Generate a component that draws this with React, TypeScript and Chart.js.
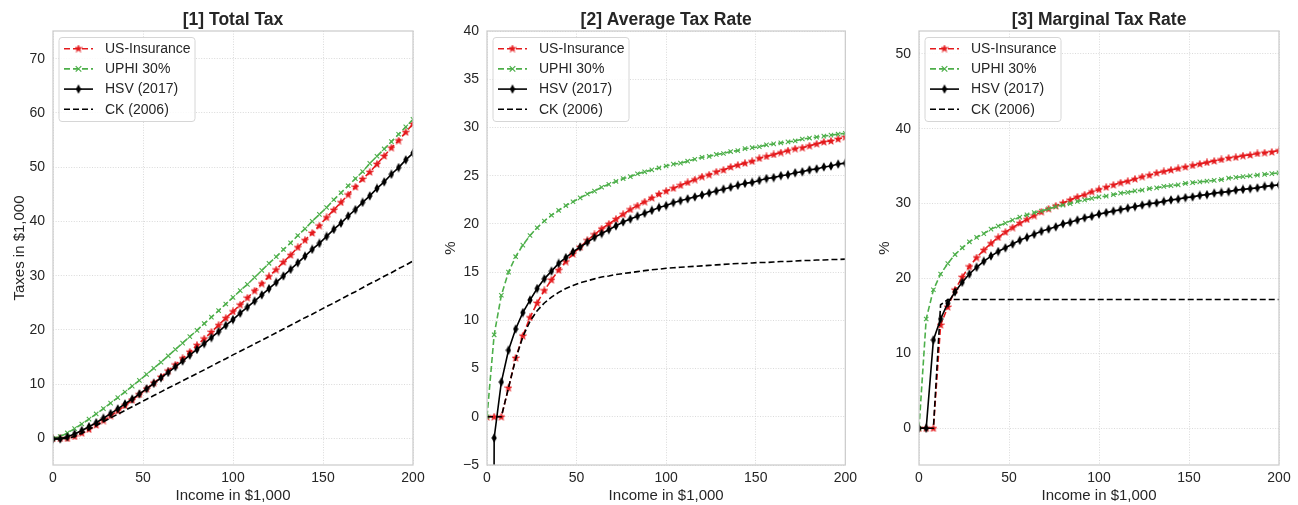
import React, { useEffect, useRef } from "react";
import { Chart, registerables } from "chart.js";

Chart.register(...registerables);

// ---------------- DATA ----------------
const income = [0, 4, 8, 12, 16, 20, 24, 28, 32, 36, 40, 44, 48, 52, 56, 60, 64, 68, 72, 76, 80, 84, 88, 92, 96, 100, 104, 108, 112, 116, 120, 124, 128, 132, 136, 140, 144, 148, 152, 156, 160, 164, 168, 172, 176, 180, 184, 188, 192, 196, 200];

const seriesNames = ["US-Insurance", "UPHI 30%", "HSV (2017)", "CK (2006)"];

// [1] Total tax (in $1,000)
const totalUS = [0, 0, 0, 0.36, 0.98, 1.68, 2.47, 3.3, 4.19, 5.11, 6.08, 7.08, 8.11, 9.15, 10.25, 11.34, 12.48, 13.6, 14.76, 15.96, 17.2, 18.4, 19.62, 20.88, 22.18, 23.4, 24.65, 25.92, 27.22, 28.54, 29.88, 31.12, 32.51, 33.79, 35.22, 36.54, 37.87, 39.22, 40.74, 42.12, 43.52, 44.94, 46.37, 47.82, 49.1, 50.58, 52.07, 53.58, 54.91, 56.45, 58.0];
const totalUPHI = [0, 0.34, 1.01, 1.8, 2.66, 3.56, 4.51, 5.49, 6.5, 7.52, 8.56, 9.64, 10.7, 11.8, 12.94, 14.04, 15.23, 16.39, 17.57, 18.77, 19.92, 21.17, 22.35, 23.55, 24.77, 26.0, 27.25, 28.4, 29.68, 30.97, 32.28, 33.48, 34.82, 36.04, 37.4, 38.64, 40.03, 41.29, 42.56, 43.99, 45.28, 46.58, 47.88, 49.19, 50.69, 52.02, 53.36, 54.71, 56.06, 57.43, 58.8];
const totalHSV = [-0.15, -0.09, 0.29, 0.83, 1.46, 2.16, 2.9, 3.72, 4.58, 5.44, 6.36, 7.26, 8.21, 9.15, 10.14, 11.16, 12.16, 13.19, 14.26, 15.35, 16.4, 17.47, 18.57, 19.69, 20.83, 21.9, 23.09, 24.19, 25.31, 26.45, 27.6, 28.77, 29.95, 31.15, 32.37, 33.6, 34.85, 35.96, 37.24, 38.53, 39.68, 41.0, 42.17, 43.52, 44.7, 46.08, 47.29, 48.69, 49.92, 51.35, 52.6];
const totalCK = [0, 0, 0, 0.36, 0.96, 1.66, 2.38, 3.08, 3.78, 4.46, 5.16, 5.85, 6.53, 7.23, 7.9, 8.58, 9.28, 9.93, 10.62, 11.29, 11.96, 12.64, 13.33, 14.03, 14.69, 15.4, 16.07, 16.74, 17.42, 18.1, 18.78, 19.47, 20.16, 20.86, 21.56, 22.26, 22.9, 23.61, 24.32, 24.96, 25.68, 26.4, 27.05, 27.78, 28.51, 29.16, 29.9, 30.55, 31.3, 31.95, 32.7];

// [2] Average tax rate (%)
const avgUS = [0, 0, 0, 3.0, 6.1, 8.4, 10.3, 11.8, 13.1, 14.2, 15.2, 16.1, 16.9, 17.6, 18.3, 18.9, 19.5, 20.0, 20.5, 21.0, 21.5, 21.9, 22.3, 22.7, 23.1, 23.4, 23.7, 24.0, 24.3, 24.6, 24.9, 25.1, 25.4, 25.6, 25.9, 26.1, 26.3, 26.5, 26.8, 27.0, 27.2, 27.4, 27.6, 27.8, 27.9, 28.1, 28.3, 28.5, 28.6, 28.8, 29.0];
const avgUPHI = [0, 8.5, 12.6, 15.0, 16.6, 17.8, 18.8, 19.6, 20.3, 20.9, 21.4, 21.9, 22.3, 22.7, 23.1, 23.4, 23.8, 24.1, 24.4, 24.7, 24.9, 25.2, 25.4, 25.6, 25.8, 26.0, 26.2, 26.3, 26.5, 26.7, 26.9, 27.0, 27.2, 27.3, 27.5, 27.6, 27.8, 27.9, 28.0, 28.2, 28.3, 28.4, 28.5, 28.6, 28.8, 28.9, 29.0, 29.1, 29.2, 29.3, 29.4];
const avgHSV = [-300, -2.2, 3.6, 6.9, 9.1, 10.8, 12.1, 13.3, 14.3, 15.1, 15.9, 16.5, 17.1, 17.6, 18.1, 18.6, 19.0, 19.4, 19.8, 20.2, 20.5, 20.8, 21.1, 21.4, 21.7, 21.9, 22.2, 22.4, 22.6, 22.8, 23.0, 23.2, 23.4, 23.6, 23.8, 24.0, 24.2, 24.3, 24.5, 24.7, 24.8, 25.0, 25.1, 25.3, 25.4, 25.6, 25.7, 25.9, 26.0, 26.2, 26.3];
const avgCK = [0, 0, 0, 3.0, 6.0, 8.3, 9.9, 11.0, 11.8, 12.4, 12.9, 13.3, 13.6, 13.9, 14.1, 14.3, 14.5, 14.6, 14.75, 14.85, 14.95, 15.05, 15.15, 15.25, 15.3, 15.4, 15.45, 15.5, 15.55, 15.6, 15.65, 15.7, 15.75, 15.8, 15.85, 15.9, 15.9, 15.95, 16.0, 16.0, 16.05, 16.1, 16.1, 16.15, 16.2, 16.2, 16.25, 16.25, 16.3, 16.3, 16.35];

// [3] Marginal tax rate (%)
const margUS = [0, 0, 0, 13.8, 16.2, 18.5, 20.2, 21.6, 22.8, 23.8, 24.7, 25.5, 26.2, 26.8, 27.4, 27.9, 28.4, 28.9, 29.3, 29.7, 30.1, 30.5, 30.9, 31.2, 31.6, 31.9, 32.2, 32.5, 32.8, 33.0, 33.3, 33.6, 33.8, 34.1, 34.3, 34.5, 34.7, 34.9, 35.1, 35.3, 35.5, 35.7, 35.9, 36.1, 36.2, 36.4, 36.5, 36.7, 36.8, 36.9, 37.1];
const margUPHI = [0, 14.6, 18.5, 20.6, 22.0, 23.2, 24.1, 24.9, 25.5, 26.0, 26.6, 27.0, 27.4, 27.8, 28.2, 28.5, 28.8, 29.0, 29.3, 29.6, 29.8, 30.0, 30.3, 30.5, 30.7, 30.9, 31.0, 31.2, 31.4, 31.5, 31.7, 31.8, 32.0, 32.1, 32.3, 32.4, 32.5, 32.7, 32.8, 32.9, 33.0, 33.1, 33.2, 33.4, 33.5, 33.6, 33.7, 33.8, 33.9, 34.0, 34.1];
const margHSV = [0, 0, 11.8, 14.6, 16.7, 18.2, 19.5, 20.6, 21.5, 22.3, 23.0, 23.6, 24.1, 24.6, 25.1, 25.5, 25.9, 26.3, 26.6, 26.9, 27.3, 27.5, 27.8, 28.1, 28.3, 28.6, 28.8, 29.0, 29.2, 29.4, 29.6, 29.8, 30.0, 30.1, 30.3, 30.5, 30.6, 30.8, 30.9, 31.1, 31.2, 31.4, 31.5, 31.6, 31.8, 31.9, 32.0, 32.1, 32.3, 32.4, 32.5];
const margCK = [0, 0, 0, 16.5, 17.2, 17.2, 17.2, 17.2, 17.2, 17.2, 17.2, 17.2, 17.2, 17.2, 17.2, 17.2, 17.2, 17.2, 17.2, 17.2, 17.2, 17.2, 17.2, 17.2, 17.2, 17.2, 17.2, 17.2, 17.2, 17.2, 17.2, 17.2, 17.2, 17.2, 17.2, 17.2, 17.2, 17.2, 17.2, 17.2, 17.2, 17.2, 17.2, 17.2, 17.2, 17.2, 17.2, 17.2, 17.2, 17.2, 17.2];

// Tick labels
const xTicks = [0, 50, 100, 150, 200];
const yTicks1 = [0, 10, 20, 30, 40, 50, 60, 70];
const yTicks2 = [-5, 0, 5, 10, 15, 20, 25, 30, 35, 40];
const yTicks3 = [0, 10, 20, 30, 40, 50];

const titles = ["[1] Total Tax", "[2] Average Tax Rate", "[3] Marginal Tax Rate"];
const yLabels = ["Taxes in $1,000", "%", "%"];
const xLabel = "Income in $1,000";

// ---------------- STYLE ----------------
const FONT = '"Liberation Sans", Arial, sans-serif';
const TEXT = "#262626";
const RED = "#e41a1c";
const GREEN = "#4daf4a";
const BLACK = "#000000";
const DASH = [6, 3];

type PanelCfg = {
  left: number;
  width: number;
  yAxisWidth: number;
  rightPad: number;
  yMin: number;
  yMax: number;
  yTicks: number[];
  title: string;
  yLabel: string;
  yLabelOffset: number;
  values: number[][];
};

const panels: PanelCfg[] = [
  { left: 0, width: 430, yAxisWidth: 53, rightPad: 17, yMin: -4.9, yMax: 75.1, yTicks: yTicks1, title: titles[0], yLabel: yLabels[0], yLabelOffset: 29.5, values: [totalUS, totalUPHI, totalHSV, totalCK] },
  { left: 430, width: 432, yAxisWidth: 57, rightPad: 16, yMin: -5, yMax: 40, yTicks: yTicks2, title: titles[1], yLabel: yLabels[1], yLabelOffset: 32, values: [avgUS, avgUPHI, avgHSV, avgCK] },
  { left: 862, width: 436, yAxisWidth: 57, rightPad: 19, yMin: -4.9, yMax: 53.05, yTicks: yTicks3, title: titles[2], yLabel: yLabels[2], yLabelOffset: 30, values: [margUS, margUPHI, margHSV, margCK] },
];

function makeStar(color: string): HTMLCanvasElement {
  const c = document.createElement("canvas");
  c.width = 8;
  c.height = 8;
  const ctx = c.getContext("2d")!;
  ctx.fillStyle = color;
  ctx.strokeStyle = color;
  ctx.lineWidth = 0.6;
  ctx.beginPath();
  const cx = 4, cy = 4.2, R = 3.8, r = 1.6;
  for (let i = 0; i < 10; i++) {
    const ang = -Math.PI / 2 + (i * Math.PI) / 5;
    const rad = i % 2 === 0 ? R : r;
    const px = cx + rad * Math.cos(ang);
    const py = cy + rad * Math.sin(ang);
    if (i === 0) ctx.moveTo(px, py);
    else ctx.lineTo(px, py);
  }
  ctx.closePath();
  ctx.fill();
  ctx.stroke();
  return c;
}

function makeThinDiamond(color: string): HTMLCanvasElement {
  const c = document.createElement("canvas");
  c.width = 6;
  c.height = 10;
  const ctx = c.getContext("2d")!;
  ctx.fillStyle = color;
  ctx.beginPath();
  ctx.moveTo(3, 0.3);
  ctx.lineTo(5.6, 5);
  ctx.lineTo(3, 9.7);
  ctx.lineTo(0.4, 5);
  ctx.closePath();
  ctx.fill();
  return c;
}

function drawX(ctx: CanvasRenderingContext2D, x: number, y: number, r: number, color: string) {
  ctx.save();
  ctx.strokeStyle = color;
  ctx.lineWidth = 1.2;
  ctx.setLineDash([]);
  ctx.beginPath();
  ctx.moveTo(x - r, y - r);
  ctx.lineTo(x + r, y + r);
  ctx.moveTo(x - r, y + r);
  ctx.lineTo(x + r, y - r);
  ctx.stroke();
  ctx.restore();
}

function Panel({ cfg }: { cfg: PanelCfg }) {
  const ref = useRef<HTMLCanvasElement>(null);

  useEffect(() => {
    if (!ref.current) return;
    const star = makeStar(RED);
    const diamond = makeThinDiamond(BLACK);

    const styles = [
      { color: RED, dash: DASH, pointStyle: star as any, radius: 4, pbw: 0, order: 4 },
      { color: GREEN, dash: DASH, pointStyle: "crossRot", radius: 3.1, pbw: 1.1, order: 3 },
      { color: BLACK, dash: [] as number[], pointStyle: diamond as any, radius: 4, pbw: 0, order: 2 },
      { color: BLACK, dash: DASH, pointStyle: "circle", radius: 0, pbw: 0, order: 1 },
    ];

    const datasets = cfg.values.map((vals, k) => ({
      label: seriesNames[k],
      data: income.map((x, i) => ({ x, y: vals[i] })),
      borderColor: styles[k].color,
      backgroundColor: styles[k].color,
      borderWidth: 1.6,
      borderDash: styles[k].dash,
      pointStyle: styles[k].pointStyle,
      pointRadius: styles[k].radius,
      pointHoverRadius: styles[k].radius,
      pointBorderWidth: styles[k].pbw,
      pointBorderColor: styles[k].color,
      pointBackgroundColor: styles[k].color,
      tension: 0,
      fill: false,
      order: styles[k].order,
    }));

    const decor = {
      id: "decor" + cfg.left,
      afterDraw(chart: any) {
        const ctx: CanvasRenderingContext2D = chart.ctx;
        const a = chart.chartArea;
        ctx.save();
        // frame
        ctx.strokeStyle = "#cccccc";
        ctx.lineWidth = 1.25;
        ctx.setLineDash([]);
        ctx.strokeRect(a.left, a.top, a.right - a.left, a.bottom - a.top);

        const cx = (a.left + a.right) / 2;
        const cy = (a.top + a.bottom) / 2;
        // title
        ctx.fillStyle = TEXT;
        ctx.textAlign = "center";
        ctx.textBaseline = "alphabetic";
        ctx.font = "bold 17.5px " + FONT;
        ctx.fillText(cfg.title, cx, 25);
        // x label
        ctx.font = "15px " + FONT;
        ctx.fillText(xLabel, cx, 500);
        // y label
        ctx.save();
        ctx.translate(a.left - cfg.yLabelOffset, cy);
        ctx.rotate(-Math.PI / 2);
        ctx.fillText(cfg.yLabel, 0, 0);
        ctx.restore();

        // legend
        const bx = a.left + 6, by = 37.5, bw = 136, bh = 84;
        ctx.beginPath();
        const rr = 3;
        ctx.moveTo(bx + rr, by);
        ctx.lineTo(bx + bw - rr, by);
        ctx.quadraticCurveTo(bx + bw, by, bx + bw, by + rr);
        ctx.lineTo(bx + bw, by + bh - rr);
        ctx.quadraticCurveTo(bx + bw, by + bh, bx + bw - rr, by + bh);
        ctx.lineTo(bx + rr, by + bh);
        ctx.quadraticCurveTo(bx, by + bh, bx, by + bh - rr);
        ctx.lineTo(bx, by + rr);
        ctx.quadraticCurveTo(bx, by, bx + rr, by);
        ctx.closePath();
        ctx.fillStyle = "rgba(255,255,255,0.85)";
        ctx.fill();
        ctx.strokeStyle = "#d6d6d6";
        ctx.lineWidth = 1;
        ctx.stroke();

        for (let k = 0; k < 4; k++) {
          const ry = by + 11.2 + k * 20.2;
          const x0 = bx + 5, x1 = bx + 34, xm = (x0 + x1) / 2;
          ctx.strokeStyle = styles[k].color;
          ctx.lineWidth = 1.6;
          ctx.setLineDash(styles[k].dash);
          ctx.beginPath();
          ctx.moveTo(x0, ry);
          ctx.lineTo(x1, ry);
          ctx.stroke();
          ctx.setLineDash([]);
          if (k === 0) ctx.drawImage(star, xm - 4, ry - 4.2);
          if (k === 1) drawX(ctx, xm, ry, 2.8, GREEN);
          if (k === 2) ctx.drawImage(diamond, xm - 3, ry - 5);
          ctx.fillStyle = TEXT;
          ctx.font = "14px " + FONT;
          ctx.textAlign = "left";
          ctx.textBaseline = "middle";
          ctx.fillText(seriesNames[k], bx + 46, ry + 0.5);
        }
        ctx.restore();
      },
    };

    const chart = new Chart(ref.current, {
      type: "line",
      data: { datasets: datasets as any },
      options: {
        animation: false,
        responsive: false,
        events: [],
        layout: { padding: { top: 31, right: cfg.rightPad, left: 0, bottom: 0 } },
        plugins: {
          legend: { display: false },
          tooltip: { enabled: false },
          title: { display: false },
        },
        scales: {
          x: {
            type: "linear",
            min: 0,
            max: 200,
            afterBuildTicks: (s: any) => {
              s.ticks = xTicks.map((v) => ({ value: v }));
            },
            afterFit: (s: any) => {
              s.height = 40;
            },
            grid: { color: "#d0d0d0", lineWidth: 0.8, drawTicks: false },
            border: { display: false, dash: [1, 1.6] },
            ticks: {
              color: TEXT,
              font: { family: FONT, size: 14 },
              padding: 5,
              maxRotation: 0,
              callback: (v: any) => String(v),
            },
          },
          y: {
            type: "linear",
            min: cfg.yMin,
            max: cfg.yMax,
            afterBuildTicks: (s: any) => {
              s.ticks = cfg.yTicks.map((v) => ({ value: v }));
            },
            afterFit: (s: any) => {
              s.width = cfg.yAxisWidth;
            },
            grid: { color: "#d0d0d0", lineWidth: 0.8, drawTicks: false },
            border: { display: false, dash: [1, 1.6] },
            ticks: {
              color: TEXT,
              font: { family: FONT, size: 14 },
              padding: 8,
              callback: (v: any) => (Number(v) < 0 ? "\u2212" + Math.abs(Number(v)) : String(v)),
            },
          },
        },
      },
      plugins: [decor as any],
    });
    return () => chart.destroy();
  }, [cfg]);

  return (
    <canvas
      ref={ref}
      width={cfg.width}
      height={505}
      style={{ position: "absolute", left: cfg.left, top: 0, width: cfg.width, height: 505 }}
    />
  );
}

export default function App() {
  return (
    <div style={{ position: "absolute", left: 0, top: 0, width: 1298, height: 505, background: "#ffffff" }}>
      {panels.map((p, i) => (
        <Panel key={i} cfg={p} />
      ))}
    </div>
  );
}
